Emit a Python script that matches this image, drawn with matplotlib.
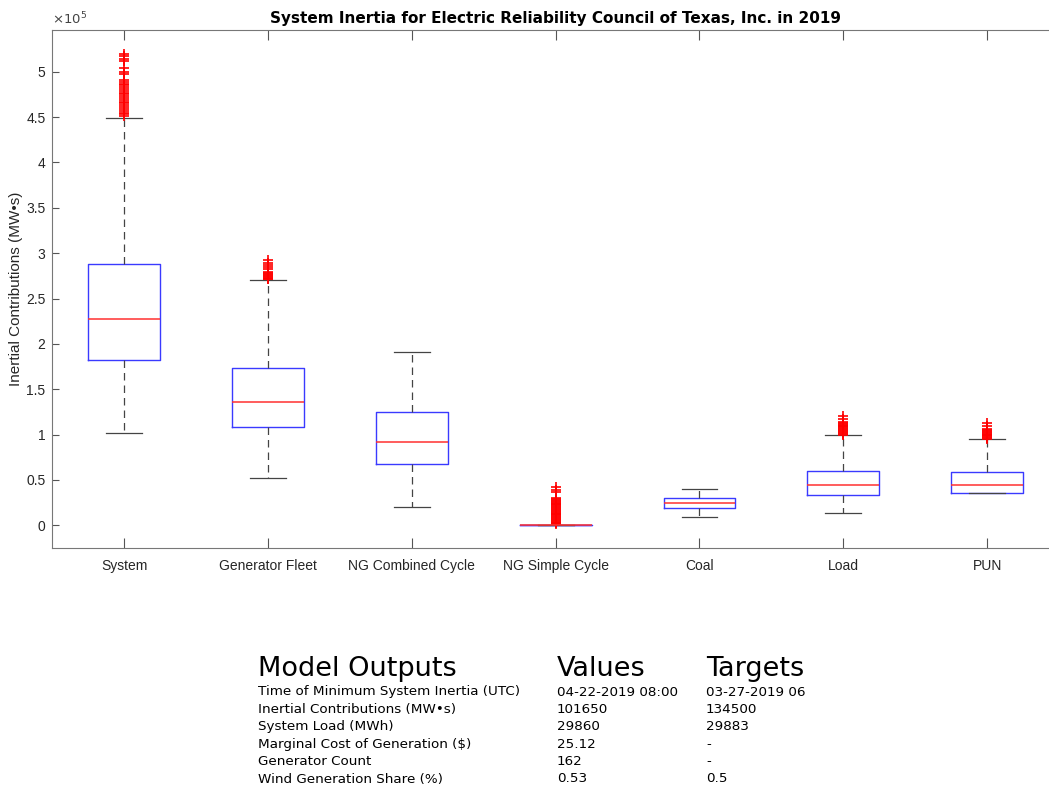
import numpy as np
import matplotlib.pyplot as plt

# box statistics (MW*s)
groups = ['System', 'Generator Fleet', 'NG Combined Cycle', 'NG Simple Cycle', 'Coal', 'Load', 'PUN']
q1 = [182000, 108000, 67300, 0, 19500, 33400, 36100]
med = [227700, 135400, 91600, 0, 24600, 44500, 44900]
q3 = [288400, 173000, 124700, 0, 30600, 60000, 59300]
wlo = [101650, 52000, 20000, 0, 9200, 13200, 36100]
whi = [449000, 270000, 191000, 0, 40000, 99300, 94600]

# outliers, in thousands
fl_system = [451, 453, 455, 457, 459, 461, 463, 465, 467, 469, 471, 473, 475, 477, 479, 481,
             483, 485, 487, 489, 491, 497, 500, 504, 512, 514, 517, 519]
fl_gen = [271, 272, 273, 274, 275, 276, 277, 278, 279, 282, 285, 287, 289, 292]
fl_ngcc = []
fl_ngsc = [1, 2, 3, 4, 5, 6, 7, 8, 9, 10, 11, 12, 13, 14, 15, 16, 17, 18, 19, 20,
           21, 22, 23, 24, 25, 26, 27, 28, 29, 30, 37, 39, 42]
fl_coal = []
fl_load = [100, 101, 102, 103, 104, 105, 106, 107, 108, 109, 110, 111, 112, 113, 114, 117, 120]
fl_pun = [95, 96, 97, 98, 99, 100, 101, 102, 103, 104, 105, 106, 109, 113]
fliers = [fl_system, fl_gen, fl_ngcc, fl_ngsc, fl_coal, fl_load, fl_pun]

# table under the chart
tbl_labels = ['Time of Minimum System Inertia (UTC)', 'Inertial Contributions (MW•s)',
              'System Load (MWh)', 'Marginal Cost of Generation ($)', 'Generator Count',
              'Wind Generation Share (%)']
tbl_values = ['04-22-2019 08:00', '101650', '29860', '25.12', '162', '0.53']
tbl_targets = ['03-27-2019 06', '134500', '29883', '-', '-', '0.5']

stats = []
for i in range(len(groups)):
    stats.append({'med': med[i], 'q1': q1[i], 'q3': q3[i], 'whislo': wlo[i], 'whishi': whi[i],
                  'fliers': np.array(fliers[i]) * 1000.0, 'label': groups[i]})

fig = plt.figure(figsize=(10.49, 7.87), dpi=100)
ax = fig.add_axes([0.05, 0.3037, 0.9595, 0.6582])

ax.bxp(stats, positions=range(1, 8), widths=0.5, capwidths=0.25, patch_artist=False,
       boxprops=dict(color='#3a3aff', lw=1.0),
       medianprops=dict(color='#ff3030', lw=1.1, zorder=4),
       whiskerprops=dict(color='#444444', lw=0.9, ls=(0, (6, 4))),
       capprops=dict(color='#444444', lw=0.9),
       flierprops=dict(marker='+', markeredgecolor='red', markersize=6.5, markeredgewidth=1.2, ls='none'))

ax.set_xlim(0.5, 7.5)
ax.set_ylim(-25000, 546000)
yt = np.arange(0, 500001, 50000)
ax.set_yticks(yt)
ax.set_yticklabels(['%g' % (v / 1e5) for v in yt])
for lab in ax.get_xticklabels() + ax.get_yticklabels():
    lab.set_fontfamily('Liberation Sans')
    lab.set_fontsize(10)
    lab.set_color('#262626')
ax.tick_params(axis='x', direction='in', length=7, width=0.8, color='#555555', top=True, pad=8)
ax.tick_params(axis='y', direction='in', length=5, width=0.8, color='#555555', right=True, pad=5)
for s in ax.spines.values():
    s.set_color('#777777')
    s.set_linewidth(0.8)

ax.text(0.0, 1.006, r'$\times10^{5}$', transform=ax.transAxes, ha='left', va='bottom',
        fontsize=9.5, color='#444444')
ax.set_ylabel('Inertial Contributions (MW•s)', family='Liberation Sans', fontsize=11,
              color='#262626', labelpad=2)
ax.set_title('System Inertia for Electric Reliability Council of Texas, Inc. in 2019',
             fontsize=11, fontweight='bold', family='DejaVu Sans', pad=5)

# model outputs table
H = 787.0
fig.text(258 / 1049, 1 - 669 / H, 'Model Outputs', fontsize=19.5, family='DejaVu Sans', va='center')
fig.text(557 / 1049, 1 - 669 / H, 'Values', fontsize=19.5, family='DejaVu Sans', va='center')
fig.text(706 / 1049, 1 - 669 / H, 'Targets', fontsize=19.5, family='DejaVu Sans', va='center')
for k in range(len(tbl_labels)):
    y = 1 - (692 + 17.4 * k) / H
    fig.text(258 / 1049, y, tbl_labels[k], fontsize=9.7, family='DejaVu Sans', va='center')
    fig.text(557 / 1049, y, tbl_values[k], fontsize=9.7, family='DejaVu Sans', va='center')
    fig.text(706 / 1049, y, tbl_targets[k], fontsize=9.7, family='DejaVu Sans', va='center')

fig.savefig('out.png', dpi=100)
